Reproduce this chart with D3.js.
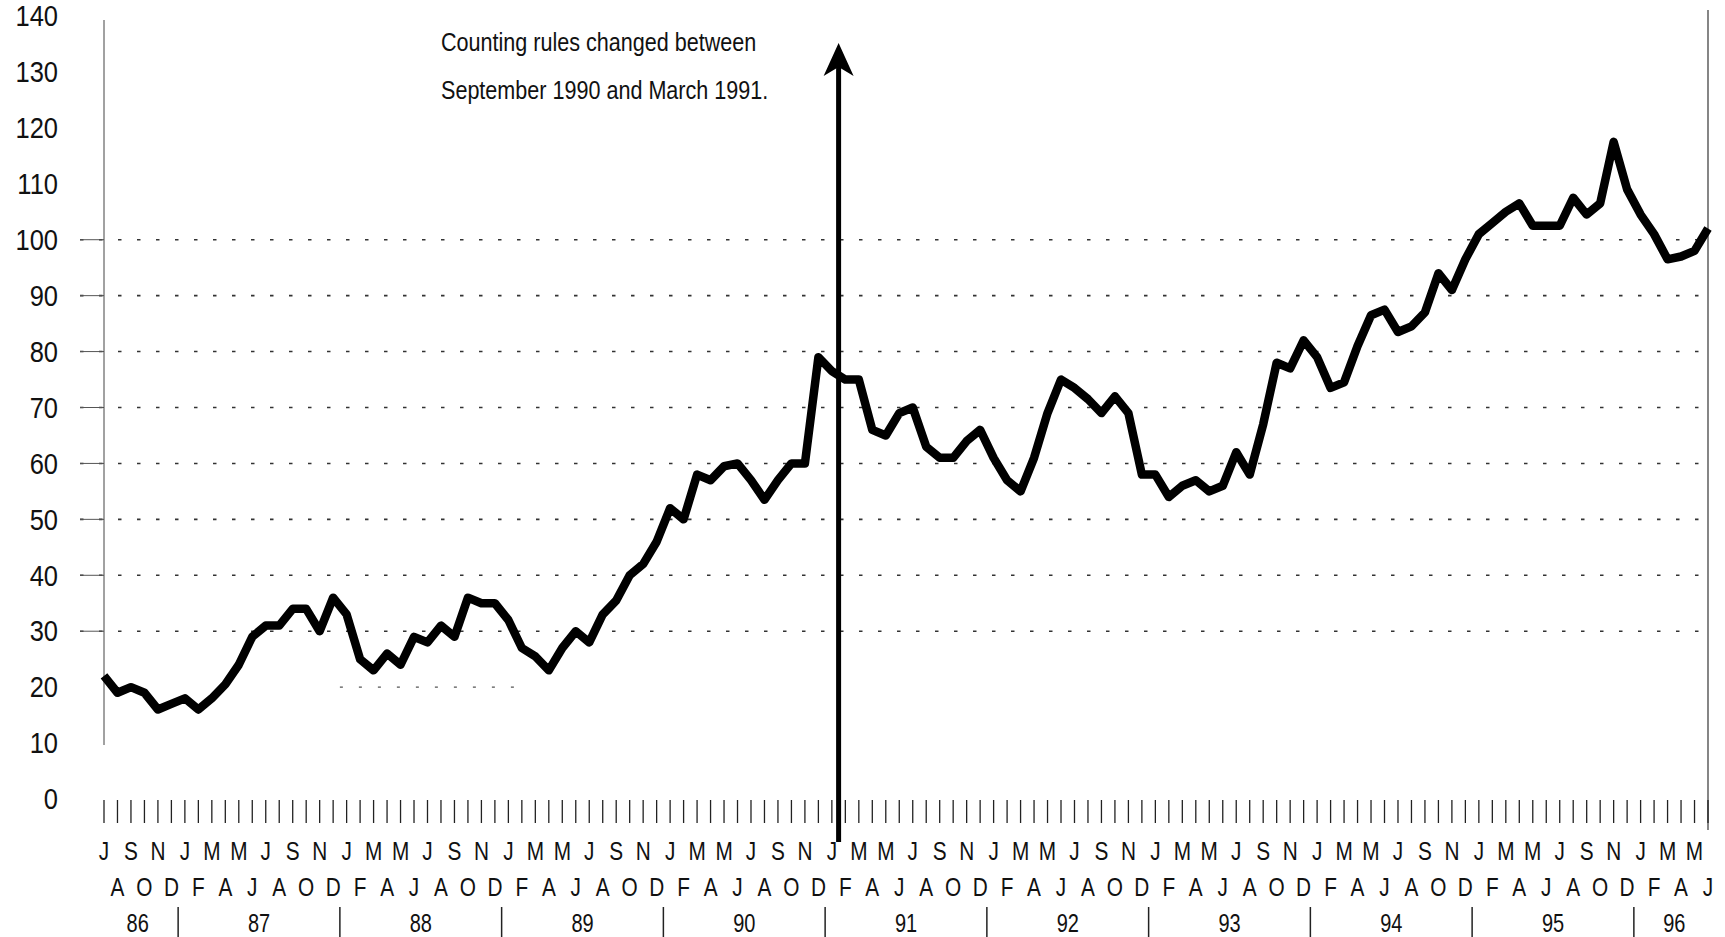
<!DOCTYPE html>
<html>
<head>
<meta charset="utf-8">
<script src="https://cdn.jsdelivr.net/npm/d3@7"></script>
<style>
  html, body { margin: 0; padding: 0; background: #fff; }
  svg { display: block; }
  text { font-family: "Liberation Sans", Arial, Helvetica, sans-serif; fill: #111; }
</style>
</head>
<body>
<svg id="chart"></svg>
<script>
const width = 1725, height = 937;

// monthly values, July 1986 .. June 1996
const values = [
    22, 19, 20, 19, 16, 17,
    18, 16, 18, 20.5, 24, 29, 31, 31, 34, 34, 30, 36,
    33, 25, 23, 26, 24, 29, 28, 31, 29, 36, 35, 35,
    32, 27, 25.5, 23, 27, 30, 28, 33, 35.5, 40, 42, 46,
    52, 50, 58, 57, 59.5, 60, 57, 53.5, 57, 60, 60, 79,
    76.5, 75, 75, 66, 65, 69, 70, 63, 61, 61, 64, 66,
    61, 57, 55, 61, 69, 75, 73.5, 71.5, 69, 72, 69, 58,
    58, 54, 56, 57, 55, 56, 62, 58, 67, 78, 77, 82,
    79, 73.5, 74.5, 81, 86.5, 87.5, 83.5, 84.5, 87, 94, 91, 96.5,
    101, 103, 105, 106.5, 102.5, 102.5, 102.5, 107.5, 104.5, 106.5, 117.5, 109,
    104.5, 101, 96.5, 97, 98, 102
];
const monthLetters = ["J", "A", "S", "O", "N", "D", "J", "F", "M", "A", "M", "J"];
const years = ["86", "87", "88", "89", "90", "91", "92", "93", "94", "95", "96"];
const yTicks = d3.range(0, 141, 10);
const gridValues = [30, 40, 50, 60, 70, 80, 90, 100];
const partialGrid = { value: 20, from: 17.5, to: 30.5 };   // month range of the faint 20 line
const arrowAt = 54.5;   // counting rule change marker (months from July 1986)
const note = ["Counting rules changed between", "September 1990 and March 1991."];

const svg = d3.select("#chart")
    .attr("width", width)
    .attr("height", height);

const x = d3.scaleLinear().domain([0, values.length - 1]).range([104, 1708]);
const y = d3.scaleLinear().domain([0, 140]).range([799, 16]);

// the print uses a condensed face, squeeze regular text horizontally
function squeeze(sel, px, py, sx) {
    sel.attr("transform", (d, i) => `translate(${px(d, i)},${py(d, i)}) scale(${sx},1)`)
        .attr("dominant-baseline", "central");
}

// dotted gridlines
const grid = svg.append("g");
grid.selectAll("line.grid")
    .data(gridValues)
    .enter().append("line")
    .attr("class", "grid")
    .attr("x1", 80).attr("x2", 1705)
    .attr("y1", d => y(d)).attr("y2", d => y(d))
    .attr("stroke", "#333")
    .attr("stroke-width", 1.6)
    .attr("stroke-dasharray", "3.5,15.5");
grid.selectAll("line.stub")
    .data(gridValues)
    .enter().append("line")
    .attr("class", "stub")
    .attr("x1", 80).attr("x2", 104)
    .attr("y1", d => y(d)).attr("y2", d => y(d))
    .attr("stroke", "#555")
    .attr("stroke-width", 1);
grid.append("line")
    .attr("x1", x(partialGrid.from)).attr("x2", x(partialGrid.to))
    .attr("y1", y(partialGrid.value)).attr("y2", y(partialGrid.value))
    .attr("stroke", "#555")
    .attr("stroke-width", 1.4)
    .attr("stroke-dasharray", "3,16");

// side rules
svg.append("line")
    .attr("x1", x(0)).attr("x2", x(0))
    .attr("y1", 20).attr("y2", 745)
    .attr("stroke", "#444").attr("stroke-width", 1);
svg.append("line")
    .attr("x1", x(values.length - 1)).attr("x2", x(values.length - 1))
    .attr("y1", 10).attr("y2", 830)
    .attr("stroke", "#444").attr("stroke-width", 1.3);

// y labels
svg.append("g")
    .selectAll("text")
    .data(yTicks)
    .enter().append("text")
    .attr("text-anchor", "end")
    .style("font-size", "30px")
    .text(d => d)
    .call(squeeze, () => 58, d => y(d), 0.85);

// month ticks
svg.append("g")
    .selectAll("line")
    .data(values)
    .enter().append("line")
    .attr("x1", (d, i) => x(i)).attr("x2", (d, i) => x(i))
    .attr("y1", 800).attr("y2", 823)
    .attr("stroke", "#222")
    .attr("stroke-width", 1.3);

// month letters, alternating rows
svg.append("g")
    .selectAll("text")
    .data(values)
    .enter().append("text")
    .attr("text-anchor", "middle")
    .style("font-size", "26px")
    .text((d, i) => monthLetters[i % 12])
    .call(squeeze, (d, i) => x(i), (d, i) => i % 2 === 0 ? 851 : 887, 0.8);

// year labels and separators
const yearStart = i => Math.max(0, i * 12 - 6);
const yearEnd = i => Math.min(values.length - 1, i * 12 + 5);
svg.append("g")
    .selectAll("text")
    .data(years)
    .enter().append("text")
    .attr("text-anchor", "middle")
    .style("font-size", "25px")
    .text(d => d)
    .call(squeeze, (d, i) => x((yearStart(i) + yearEnd(i)) / 2), () => 924, 0.8);
svg.append("g")
    .selectAll("line")
    .data(years.slice(1))
    .enter().append("line")
    .attr("x1", (d, i) => x((i + 1) * 12 - 6.5)).attr("x2", (d, i) => x((i + 1) * 12 - 6.5))
    .attr("y1", 907).attr("y2", 937)
    .attr("stroke", "#222")
    .attr("stroke-width", 1.5);

// the series
const line = d3.line()
    .x((d, i) => x(i))
    .y(d => y(d));
svg.append("path")
    .datum(values)
    .attr("d", line)
    .attr("fill", "none")
    .attr("stroke", "#000")
    .attr("stroke-width", 8.5)
    .attr("stroke-linejoin", "round")
    .attr("stroke-linecap", "butt");

// arrow marking the rule change
const ax = x(arrowAt);
svg.append("line")
    .attr("x1", ax).attr("x2", ax)
    .attr("y1", 842).attr("y2", 66)
    .attr("stroke", "#000")
    .attr("stroke-width", 5);
svg.append("path")
    .attr("d", `M${ax},43 L${ax + 15},76 L${ax},67 L${ax - 15},76 Z`)
    .attr("fill", "#000");

svg.append("g")
    .selectAll("text")
    .data(note)
    .enter().append("text")
    .style("font-size", "26px")
    .text(d => d)
    .call(squeeze, () => 441, (d, i) => 42 + i * 48, 0.83);
</script>
</body>
</html>
